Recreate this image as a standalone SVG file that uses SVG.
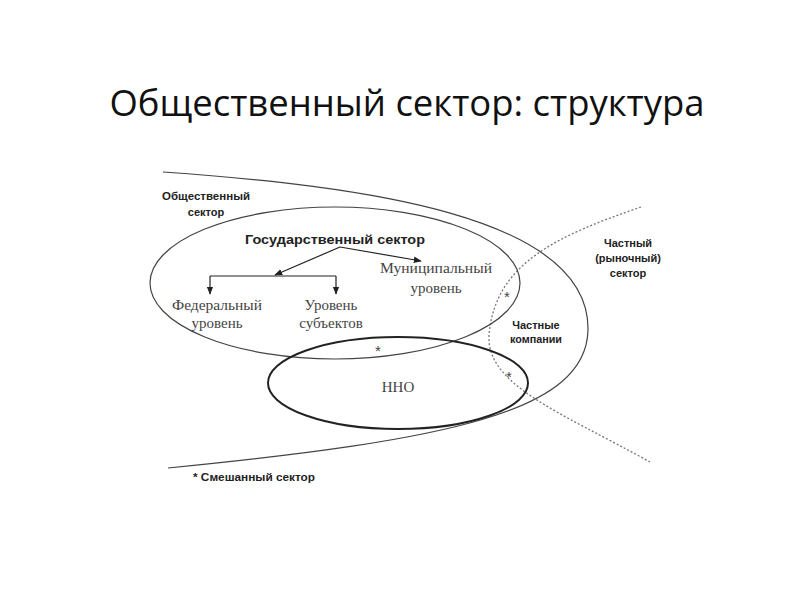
<svg xmlns="http://www.w3.org/2000/svg" width="800" height="600" viewBox="0 0 800 600">
<defs>
<style>
.title{font-family:"Open Sans","Noto Sans","Liberation Sans",sans-serif;font-size:37px;fill:#111}
.lbl{font-family:"Liberation Sans",Arial,sans-serif;font-weight:bold;font-size:11px;fill:#222}
.gs{font-family:"Liberation Sans",Arial,sans-serif;font-weight:bold;font-size:12.5px;fill:#222}
.ser{font-family:"Liberation Serif","Times New Roman",serif;font-size:15px;fill:#444}
.star{font-family:"Liberation Sans",Arial,sans-serif;font-size:15px;fill:#444}
.line{fill:none;stroke:#444;stroke-width:1.2}
.dot{fill:none;stroke:#777;stroke-width:1.3;stroke-dasharray:2 2}
.arr{fill:none;stroke:#222;stroke-width:1.2}
</style>
<marker id="ah" viewBox="0 0 10 10" refX="9" refY="5" markerWidth="8" markerHeight="8" orient="auto" markerUnits="userSpaceOnUse">
<path d="M0,1 L10,5 L0,9 Z" fill="#222"/>
</marker>
</defs>
<rect width="800" height="600" fill="#fff"/>
<text class="title" x="407" y="116" text-anchor="middle" textLength="595" lengthAdjust="spacingAndGlyphs">Общественный сектор: структура</text>

<g id="public-sector">
<path class="line" d="M163,172 C 360,186 590,215 588,330 C 586,412 450,440 168,468"/>
<text class="lbl" x="206" y="200" text-anchor="middle" textLength="88" lengthAdjust="spacingAndGlyphs">Общественный</text>
<text class="lbl" x="206" y="216" text-anchor="middle">сектор</text>
</g>

<g id="private-sector">
<path class="dot" d="M641,207 C 560,235 495,262 489,335 C 486,385 560,412 650,462"/>
<text class="lbl" x="628" y="247" text-anchor="middle">Частный</text>
<text class="lbl" x="628" y="262" text-anchor="middle">(рыночный)</text>
<text class="lbl" x="628" y="277" text-anchor="middle">сектор</text>
</g>

<g id="state-sector">
<ellipse class="line" cx="335" cy="283" rx="185" ry="76"/>
<text class="gs" x="335" y="244" text-anchor="middle" textLength="180" lengthAdjust="spacingAndGlyphs">Государственный сектор</text>
</g>

<g id="federal">
<text class="ser" x="217" y="310" text-anchor="middle" textLength="90" lengthAdjust="spacingAndGlyphs">Федеральный</text>
<text class="ser" x="217" y="328" text-anchor="middle">уровень</text>
</g>
<g id="subjects">
<text class="ser" x="331" y="310" text-anchor="middle">Уровень</text>
<text class="ser" x="331" y="328" text-anchor="middle">субъектов</text>
</g>
<g id="municipal">
<text class="ser" x="436" y="273" text-anchor="middle" textLength="112" lengthAdjust="spacingAndGlyphs">Муниципальный</text>
<text class="ser" x="436" y="293" text-anchor="middle">уровень</text>
</g>

<g id="nko">
<ellipse cx="398" cy="383" rx="130" ry="46" fill="none" stroke="#222" stroke-width="2"/>
<text class="ser" x="398" y="392" text-anchor="middle">ННО</text>
</g>

<g id="private-companies">
<text class="lbl" x="536" y="329" text-anchor="middle">Частные</text>
<text class="lbl" x="536" y="343" text-anchor="middle" textLength="52" lengthAdjust="spacingAndGlyphs">компании</text>
</g>

<g id="connectors">
<line class="arr" x1="340" y1="247" x2="275" y2="275" marker-end="url(#ah)"/>
<line class="arr" x1="340" y1="247" x2="421" y2="261" marker-end="url(#ah)"/>
<line class="arr" x1="210" y1="276" x2="336" y2="276"/>
<line class="arr" x1="210" y1="276" x2="210" y2="294" marker-end="url(#ah)"/>
<line class="arr" x1="336" y1="276" x2="336" y2="294" marker-end="url(#ah)"/>
</g>

<g id="mixed-marks">
<text class="star" x="378" y="356" text-anchor="middle">*</text>
<text class="star" x="507" y="302" text-anchor="middle">*</text>
<text class="star" x="509" y="382" text-anchor="middle">*</text>
</g>

<g id="legend">
<text class="lbl" x="193" y="481" textLength="122" lengthAdjust="spacingAndGlyphs">* Смешанный сектор</text>
</g>
</svg>
